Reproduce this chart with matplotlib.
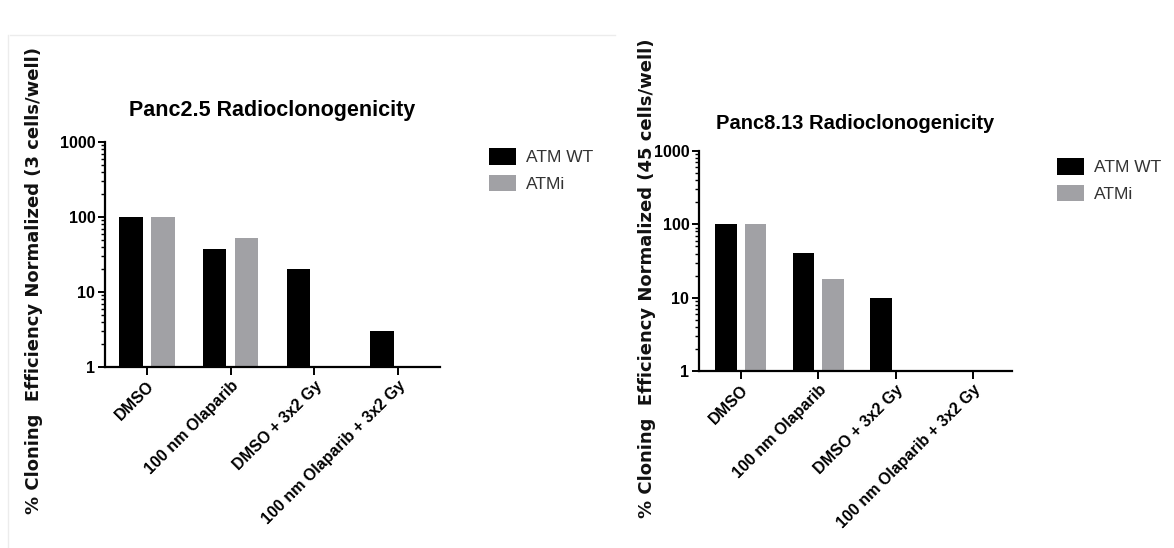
import matplotlib.pyplot as plt
import numpy as np
from matplotlib.lines import Line2D
from matplotlib.patches import Patch
from matplotlib.ticker import LogLocator, NullFormatter

# 两个胰腺癌细胞系的放射克隆形成效率（对数坐标）
categories = ['DMSO', '100 nm Olaparib', 'DMSO + 3x2 Gy', '100 nm Olaparib + 3x2 Gy']
series_names = ['ATM WT', 'ATMi']

panc25_wt = [100, 37, 20.5, 3]
panc25_atmi = [100, 53, np.nan, np.nan]

panc813_wt = [100, 41, 10, np.nan]
panc813_atmi = [100, 18, np.nan, np.nan]

colors = ['#000000', '#a1a1a5']

plt.rcParams['font.family'] = ['Liberation Sans', 'DejaVu Sans']


def draw_panel(ax, wt, atmi, title, title_size, title_pad, xlim_left):
    """画一个柱状图面板"""
    x = np.arange(len(categories))
    w = 0.28
    ax.bar(x - 0.19, wt, width=w, color=colors[0])
    ax.bar(x + 0.19, atmi, width=w, color=colors[1])
    ax.set_yscale('log')
    ax.set_ylim(1, 1000)
    ax.set_xlim(xlim_left, 3.5)

    ax.set_yticks([1, 10, 100, 1000])
    ax.set_yticklabels(['1', '10', '100', '1000'], fontweight='bold', fontsize=11.5)
    ax.yaxis.set_minor_locator(LogLocator(base=10, subs=np.arange(2, 10)))
    ax.yaxis.set_minor_formatter(NullFormatter())
    ax.set_xticks(x)
    ax.set_xticklabels(categories, rotation=45, ha='right', rotation_mode='anchor',
                       fontweight='bold', fontsize=11.5)

    for side in ['top', 'right']:
        ax.spines[side].set_visible(False)
    for side in ['left', 'bottom']:
        ax.spines[side].set_linewidth(1.6)
    ax.tick_params(axis='both', which='major', width=1.4, length=5, pad=2)
    ax.tick_params(axis='y', which='minor', width=1.0, length=3)
    ax.tick_params(axis='x', length=6)

    ax.set_title(title, fontweight='bold', fontsize=title_size, pad=title_pad)
    return ax


fig = plt.figure(figsize=(11.74, 5.48), dpi=100)

ax1 = fig.add_axes([105 / 1174, 1 - 367 / 548, 335 / 1174, 225 / 548])
draw_panel(ax1, panc25_wt, panc25_atmi, 'Panc2.5 Radioclonogenicity', 15.5, 19, -0.5)

ax2 = fig.add_axes([699 / 1174, 1 - 371 / 548, 313 / 1174, 220 / 548])
draw_panel(ax2, panc813_wt, panc813_atmi, 'Panc8.13 Radioclonogenicity', 14.5, 16, -0.54)

# y轴标签放在图像坐标里，位置按原图（原图字距较宽，用 DejaVu 字体）
ylabel_kw = dict(rotation=90, ha='center', va='center', fontweight='bold',
                 fontsize=13, family=['DejaVu Sans'], color='#111111')
fig.text(34 / 1174, 1 - 280 / 548, '% Cloning  Efficiency Normalized (3 cells/well)', **ylabel_kw)
fig.text(647 / 1174, 1 - 278 / 548, '% Cloning  Efficiency Normalized (45 cells/well)', **ylabel_kw)

# 图例
handles = [Patch(facecolor=c, edgecolor='none') for c in colors]
legend_kw = dict(loc='upper left', frameon=False, fontsize=12.5, borderpad=0,
                 borderaxespad=0, handlelength=1.55, handleheight=1.1,
                 handletextpad=0.6, labelspacing=0.55, labelcolor='#333333')
fig.legend(handles, series_names, bbox_to_anchor=(489 / 1174, 1 - 148 / 548), **legend_kw)
fig.legend(handles, series_names, bbox_to_anchor=(1057 / 1174, 1 - 158 / 548), **legend_kw)

# 左边面板的浅色边框
fig.add_artist(Line2D([10 / 1174, 615 / 1174], [1 - 35 / 548, 1 - 35 / 548],
                      color='#ececec', lw=1))
fig.add_artist(Line2D([8 / 1174, 8 / 1174], [1 - 35 / 548, 0],
                      color='#ececec', lw=1))

plt.savefig('out.png', dpi=100)
